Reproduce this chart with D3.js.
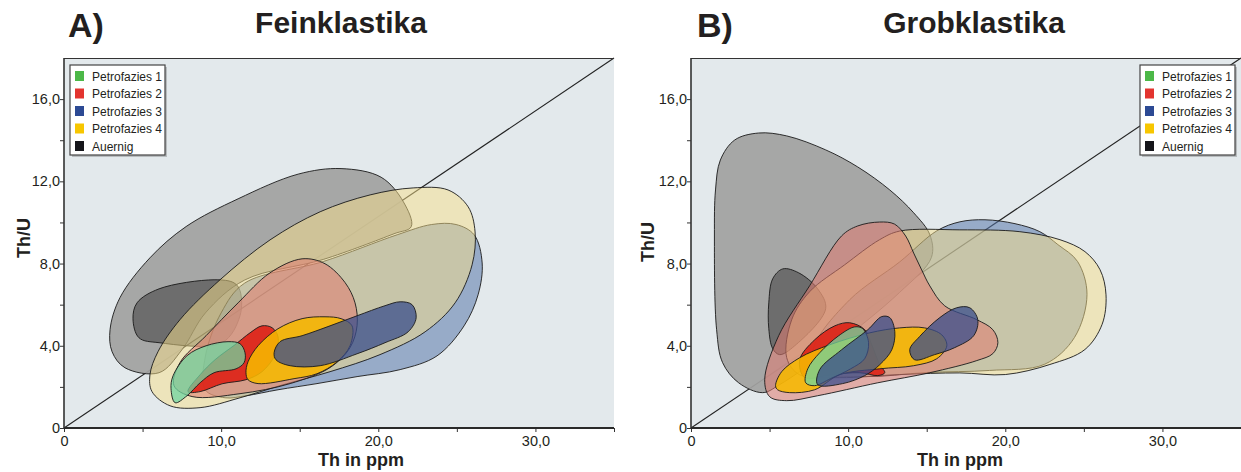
<!DOCTYPE html>
<html>
<head>
<meta charset="utf-8">
<script src="https://cdn.jsdelivr.net/npm/d3@7"></script>
<style>
  body { margin: 0; background: #fff; }
  text { font-family: "Liberation Sans", Arial, sans-serif; fill: #231f20; }
</style>
</head>
<body>
<div id="chart"></div>
<script>
// legend categories and colours
const categories = ["Petrofazies 1", "Petrofazies 2", "Petrofazies 3", "Petrofazies 4", "Auernig"];
const legendColors = ["#4cb848", "#e3342f", "#2c4a94", "#f7c600", "#15151a"];

// axis ticks
const xTicks = [0, 10, 20, 30];
const xTickLabels = ["0", "10,0", "20,0", "30,0"];
const yTicks = [0, 4, 8, 12, 16];
const yTickLabels = ["0", "4,0", "8,0", "12,0", "16,0"];

// density contours, points are [Th in ppm, Th/U]
// A) Feinklastika
const feinAuernigOuter = [[2.93,4.78],[3.56,6.34],[5.47,8.28],[7.77,9.8],[11.08,11.15],[14.9,12.35],[17.63,12.62],[20.18,12.2],[21.6,11.0],[22.1,9.8],[21.0,9.45],[16.5,8.2],[11.5,7.2],[9.0,5.6],[7.5,3.8],[6.05,2.69],[3.88,2.93],[3.06,3.71]];
const feinAuernigInner = [[4.39,5.31],[4.65,6.09],[6.05,6.77],[9.55,7.21],[10.82,7.06],[11.2,6.68],[11.2,5.46],[10.06,4.15],[6.05,4.15],[4.77,4.39]];
const feinP3Outer = [[24.95,9.9],[26.1,9.4],[26.61,8.03],[26.35,6.48],[25.46,4.97],[23.74,3.51],[21.39,2.84],[18.65,2.5],[16.1,2.16],[13.62,1.86],[11.58,1.57],[10.25,1.47],[8.98,1.86],[9.0,3.5],[10.0,5.6],[11.5,7.05],[16.5,8.1],[21.2,9.4],[23.4,9.9]];
const feinP4Outer = [[22.22,11.68],[24.44,11.58],[25.72,10.76],[26.16,9.54],[25.97,7.94],[24.89,6.09],[22.98,4.68],[20.11,3.57],[16.93,2.74],[13.75,2.06],[11.2,1.47],[8.66,0.99],[6.75,1.08],[5.6,1.77],[5.47,2.59],[5.98,3.71],[7.38,5.27],[9.93,7.21],[13.11,9.15],[16.3,10.52],[19.48,11.34]];
const feinP2Outer = [[15.15,8.23],[16.61,7.99],[17.89,7.07],[18.52,6.09],[18.65,4.98],[18.2,3.91],[16.93,2.94],[14.39,2.16],[11.2,1.67],[8.15,1.53],[7.0,2.06],[7.38,3.18],[9.04,4.49],[11.08,6.09],[13.11,7.55]];
const feinP2Inner = [[7.89,1.77],[8.66,2.59],[9.61,3.32],[10.88,4.05],[11.84,4.63],[12.6,4.97],[13.24,4.88],[13.62,4.44],[13.43,3.56],[12.6,2.74],[11.58,2.35],[10.06,2.15],[8.66,1.77]];
const feinP1 = [[7.07,1.23],[6.81,1.91],[6.94,2.54],[7.83,3.52],[9.04,4.0],[10.44,4.2],[11.2,4.1],[11.52,3.66],[11.46,3.18],[10.95,2.88],[9.55,2.69],[8.66,2.2],[7.83,1.57]];
const feinP4Inner = [[11.58,2.69],[11.71,3.22],[12.35,4.0],[13.62,4.83],[15.15,5.32],[16.61,5.41],[17.63,5.32],[18.33,4.97],[18.2,4.0],[17.38,3.22],[16.1,2.64],[14.64,2.4],[12.35,2.16],[11.71,2.35]];
const feinP3Inner = [[13.37,3.66],[13.75,4.2],[15.15,4.49],[16.93,4.97],[18.65,5.46],[20.43,5.95],[21.39,6.14],[22.15,6.0],[22.41,5.36],[21.9,4.68],[20.43,4.15],[18.65,3.61],[16.3,3.03],[14.39,3.03],[13.49,3.32]];

// B) Grobklastika
const grobAuernigOuter = [[1.49,9.34],[1.56,11.58],[1.87,13.04],[2.78,14.01],[4.29,14.35],[6.09,14.21],[8.57,13.53],[10.61,12.7],[12.65,11.58],[14.17,10.47],[15.2,9.4],[15.3,8.3],[13.28,6.6],[8.83,3.81],[5.64,2.11],[4.56,1.72],[3.03,2.2],[2.01,3.18],[1.63,4.78]];
const grobAuernigInner = [[5.84,7.74],[5.2,7.26],[4.95,6.09],[4.95,4.83],[5.2,3.86],[5.64,3.57],[6.6,4.0],[8.57,5.8],[8.06,6.77],[6.85,7.55]];
const grobP3Outer = [[13.28,8.08],[15.64,9.59],[17.11,10.03],[18.71,10.13],[20.62,9.94],[22.2,9.55],[23.35,8.92],[24.6,8.1],[25.2,6.5],[24.4,4.4],[22.5,3.1],[19.0,2.8],[15.0,2.7],[11.0,2.5],[8.0,2.8],[7.8,3.9],[10.1,6.24]];
const grobP4Outer = [[6.09,3.42],[6.41,5.27],[7.55,6.63],[9.78,7.94],[12.0,9.16],[13.28,9.58],[17.11,9.64],[20.93,9.55],[23.48,9.16],[25.07,8.58],[26.03,7.7],[26.41,6.48],[26.16,5.04],[25.07,3.82],[22.84,3.09],[20.0,2.6],[17.11,2.68],[13.28,2.6],[9.46,2.45],[6.91,2.59]];
const grobP2Outer = [[12.0,10.02],[12.95,9.92],[13.66,9.34],[14.17,8.51],[14.68,7.69],[15.2,6.91],[16.15,5.94],[18.19,5.27],[19.21,4.78],[19.53,4.15],[19.21,3.62],[18.19,3.28],[15.2,2.69],[11.89,2.2],[8.06,1.57],[6.09,1.33],[5.01,1.52],[4.69,2.35],[5.58,4.49],[7.55,6.92],[9.59,9.35],[10.61,9.83]];
const grobP2Inner = [[6.92,3.32],[7.87,4.29],[9.15,4.97],[10.1,5.12],[11.06,4.78],[11.5,4.05],[12.01,3.08],[12.33,2.69],[11.89,2.55],[10.74,2.69],[8.83,2.59],[7.23,2.45]];
const grobP4Inner = [[5.38,2.06],[5.77,2.74],[6.92,3.42],[8.83,4.05],[11.38,4.63],[13.28,4.87],[14.87,4.87],[15.96,4.53],[16.28,4.0],[15.64,3.37],[14.17,3.03],[12.01,2.88],[9.46,2.59],[7.87,1.86],[6.28,1.72],[5.51,1.86]];
const grobP1 = [[7.3,2.2],[7.43,2.88],[8.19,3.66],[9.4,4.49],[10.42,4.92],[10.93,4.83],[11.3,4.15],[11.05,3.37],[10.16,2.88],[8.88,2.4],[7.86,2.06]];
const grobP3InnerA = [[8.06,2.11],[8.19,2.84],[9.59,3.81],[11.25,4.78],[12.14,5.42],[12.65,5.37],[12.97,4.68],[12.78,3.81],[12.01,3.08],[11.06,2.55],[9.65,2.16]];
const grobP3InnerB = [[13.92,3.81],[14.55,4.45],[15.83,5.37],[16.91,5.85],[17.74,5.85],[18.25,5.27],[17.99,4.49],[16.78,3.91],[15.51,3.57],[14.23,3.32]];

// fill styles per contour level
const style = {
  auernigOuter: { fill: "#a1a1a0", op: 0.93 },
  auernigInner: { fill: "#4a4a4a", op: 0.62 },
  p3Outer: { fill: "#5a78ab", op: 0.55 },
  p4Outer: { fill: "#f7e08a", op: 0.5 },
  p2Outer: { fill: "#e07a70", op: 0.55 },
  p2Inner: { fill: "#dd2418", op: 0.92 },
  p1: { fill: "#6fd6a0", op: 0.75 },
  p4Inner: { fill: "#f6b800", op: 0.88 },
  p3Inner: { fill: "#3a4d8c", op: 0.75 }
};

const panels = [
  { letter: "A)", title: "Feinklastika", left: 64, legendX: 70, xLabelX: 297, yLabelX: -34, yLabelY: 180,
    titleX: 341, letterX: 68,
    layers: [
      [feinAuernigOuter, style.auernigOuter], [feinAuernigInner, style.auernigInner],
      [feinP3Outer, style.p3Outer], [feinP4Outer, style.p4Outer], [feinP2Outer, style.p2Outer],
      [feinP2Inner, style.p2Inner], [feinP1, style.p1], [feinP4Inner, style.p4Inner], [feinP3Inner, style.p3Inner]
    ] },
  { letter: "B)", title: "Grobklastika", left: 691, legendX: 1140, xLabelX: 269, yLabelX: -37, yLabelY: 184,
    titleX: 974, letterX: 697,
    layers: [
      [grobAuernigOuter, style.auernigOuter], [grobAuernigInner, style.auernigInner],
      [grobP3Outer, style.p3Outer], [grobP4Outer, style.p4Outer], [grobP2Outer, style.p2Outer],
      [grobP2Inner, style.p2Inner], [grobP4Inner, style.p4Inner], [grobP1, style.p1],
      [grobP3InnerA, style.p3Inner], [grobP3InnerB, style.p3Inner]
    ] }
];

const W = 1241, H = 472;
const plotTop = 58, plotW = 550, plotH = 370;

const svg = d3.select("#chart").append("svg")
  .attr("width", W).attr("height", H);

const x = d3.scaleLinear().domain([0, 35]).range([0, plotW]);
const y = d3.scaleLinear().domain([0, 18]).range([plotH, 0]);

const line = d3.line()
  .x(d => x(d[0]))
  .y(d => y(d[1]))
  .curve(d3.curveCatmullRomClosed.alpha(0.5));

panels.forEach(p => {
  // titles
  svg.append("text").attr("x", p.letterX).attr("y", 37)
    .attr("font-size", 34).attr("font-weight", "bold").text(p.letter);
  svg.append("text").attr("x", p.titleX).attr("y", 33)
    .attr("text-anchor", "middle").attr("font-size", 30).attr("font-weight", "bold").text(p.title);

  const g = svg.append("g").attr("transform", `translate(${p.left},${plotTop})`);

  g.append("rect").attr("width", plotW).attr("height", plotH).attr("fill", "#e3e9ec");

  // 1:1 reference line from origin to top right corner
  g.append("line")
    .attr("x1", x(0)).attr("y1", y(0)).attr("x2", x(35)).attr("y2", y(18))
    .attr("stroke", "#222").attr("stroke-width", 1.1);

  g.selectAll("path.contour")
    .data(p.layers)
    .join("path")
    .attr("class", "contour")
    .attr("d", d => line(d[0]))
    .attr("fill", d => d[1].fill)
    .attr("fill-opacity", d => d[1].op)
    .attr("stroke", "#1a1a1a")
    .attr("stroke-width", 0.9);

  // frame
  g.append("line").attr("x1", 0).attr("x2", plotW).attr("y1", 0.5).attr("y2", 0.5)
    .attr("stroke", "#333").attr("stroke-width", 1.2);
  g.append("line").attr("x1", 0).attr("x2", 0).attr("y1", 0).attr("y2", plotH)
    .attr("stroke", "#333").attr("stroke-width", 1.6);

  // axes
  const xAxis = g.append("g").attr("transform", `translate(0,${plotH})`)
    .call(d3.axisBottom(x).tickValues([0, 5, 10, 15, 20, 25, 30, 35]).tickSize(4)
      .tickFormat(v => { const i = xTicks.indexOf(v); return i < 0 ? "" : xTickLabels[i]; }));
  xAxis.select(".domain").remove();
  xAxis.selectAll("line").attr("stroke", "#333");
  xAxis.selectAll("text").attr("font-size", 14.5).attr("font-family", null).attr("fill", null).attr("dy", "0.95em").attr("y", 4);
  g.append("line").attr("x1", 0).attr("x2", plotW).attr("y1", plotH).attr("y2", plotH)
    .attr("stroke", "#2a2a2a").attr("stroke-width", 2);

  const yAxis = g.append("g")
    .call(d3.axisLeft(y).tickValues([0, 2, 4, 6, 8, 10, 12, 14, 16]).tickSize(4)
      .tickFormat(v => { const i = yTicks.indexOf(v); return i < 0 ? "" : yTickLabels[i]; }));
  yAxis.select(".domain").remove();
  yAxis.selectAll("line").attr("stroke", "#333");
  yAxis.selectAll("text").attr("font-size", 14.5).attr("font-family", null).attr("fill", null).attr("x", -4);

  // axis titles
  g.append("text").attr("x", p.xLabelX).attr("y", 408)
    .attr("text-anchor", "middle").attr("font-size", 18).attr("font-weight", "bold").text("Th in ppm");
  g.append("text")
    .attr("transform", `translate(${p.yLabelX},${p.yLabelY}) rotate(-90)`)
    .attr("text-anchor", "middle").attr("font-size", 18).attr("font-weight", "bold").text("Th/U");

  // legend
  const lg = svg.append("g").attr("transform", `translate(${p.legendX},65)`);
  lg.append("rect").attr("x", 2).attr("y", 2).attr("width", 95).attr("height", 90).attr("fill", "#b8bcbe");
  lg.append("rect").attr("width", 95).attr("height", 90).attr("fill", "#fff")
    .attr("stroke", "#444").attr("stroke-width", 1.2);
  const rows = lg.selectAll("g.row").data(categories).join("g")
    .attr("class", "row")
    .attr("transform", (d, i) => `translate(5,${11 + i * 17.5})`);
  rows.append("rect").attr("x", 0).attr("y", -5).attr("width", 9).attr("height", 10)
    .attr("fill", (d, i) => legendColors[i]);
  rows.append("text").attr("x", 17).attr("y", 4.5).attr("font-size", 12).text(d => d);
});
</script>
</body>
